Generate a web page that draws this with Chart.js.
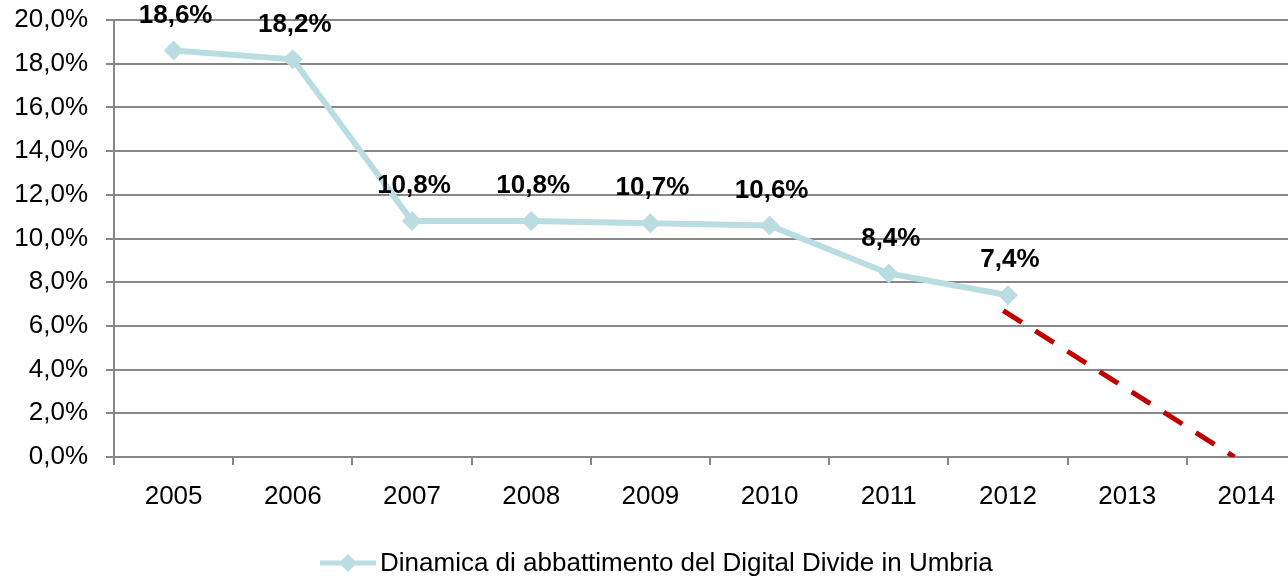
<!DOCTYPE html>
<html>
<head>
<meta charset="utf-8">
<script src="https://cdn.jsdelivr.net/npm/chart.js@4"></script>
<style>
  html, body { margin: 0; padding: 0; background: #fff; overflow: hidden; }
  /* the original chart is cropped on the right, so the canvas runs past the frame */
  #wrap { width: 1288px; height: 579px; overflow: hidden; }
</style>
</head>
<body>
<div id="wrap"><canvas id="chart" width="1306" height="579"></canvas></div>
<script>
const years = ['2005', '2006', '2007', '2008', '2009', '2010', '2011', '2012', '2013', '2014'];
const digitalDivide = [18.6, 18.2, 10.8, 10.8, 10.7, 10.6, 8.4, 7.4, null, null];
// red dashed projection, x in category index units (0 = 2005)
const trendX = [6.96, 8.9];
const trendY = [6.7, 0];
const legendText = 'Dinamica di abbattimento del Digital Divide in Umbria';

const blue = '#b9dde0';
const red = '#c00000';
const grey = '#878787';
const fontFamily = '"Liberation Sans", Arial, sans-serif';

function fmt(v) {
    return v.toFixed(1).replace('.', ',') + '%';
}

// value labels above the blue points + bottom legend
const labelsPlugin = {
    id: 'labelsPlugin',
    afterDatasetsDraw(chart) {
        const ctx = chart.ctx;
        const meta = chart.getDatasetMeta(1);
        ctx.save();
        ctx.font = 'bold 26px ' + fontFamily;
        ctx.fillStyle = '#000';
        ctx.textAlign = 'center';
        ctx.textBaseline = 'middle';
        meta.data.forEach((pt, i) => {
            const v = digitalDivide[i];
            if (v == null) return;
            ctx.fillText(fmt(v), pt.x + 2, pt.y - 35);
        });

        // legend
        const y = 563;
        const x0 = 320;
        ctx.strokeStyle = blue;
        ctx.lineWidth = 5;
        ctx.beginPath();
        ctx.moveTo(x0, y);
        ctx.lineTo(x0 + 56, y);
        ctx.stroke();
        ctx.fillStyle = blue;
        ctx.beginPath();
        ctx.moveTo(x0 + 28, y - 9);
        ctx.lineTo(x0 + 37, y);
        ctx.lineTo(x0 + 28, y + 9);
        ctx.lineTo(x0 + 19, y);
        ctx.closePath();
        ctx.fill();
        ctx.font = '26px ' + fontFamily;
        ctx.fillStyle = '#000';
        ctx.textAlign = 'left';
        ctx.fillText(legendText, x0 + 60, y + 1);
        ctx.restore();
    }
};

new Chart(document.getElementById('chart').getContext('2d'), {
    type: 'line',
    data: {
        labels: years,
        datasets: [{
            label: 'trend',
            data: trendX.map((x, i) => ({ x: x, y: trendY[i] })),
            xAxisID: 'x2',
            borderColor: red,
            borderWidth: 5,
            borderDash: [22, 16],
            pointRadius: 0,
            fill: false
        }, {
            label: legendText,
            data: digitalDivide,
            xAxisID: 'x',
            borderColor: blue,
            backgroundColor: blue,
            borderWidth: 6,
            pointStyle: 'rectRot',
            pointRadius: 10,
            pointBorderWidth: 0,
            fill: false
        }]
    },
    options: {
        responsive: false,
        animation: false,
        layout: { autoPadding: false, padding: { top: 20, right: 0, bottom: 0, left: 0 } },
        plugins: {
            legend: { display: false },
            tooltip: { enabled: false }
        },
        scales: {
            x: {
                offset: true,
                grid: {
                    offset: true,
                    drawOnChartArea: false,
                    color: grey,
                    lineWidth: 2,
                    tickLength: 8
                },
                border: { color: grey, width: 2 },
                ticks: {
                    color: '#000',
                    padding: 16,
                    maxRotation: 0,
                    font: { family: fontFamily, size: 26 }
                },
                afterFit(scale) {
                    scale.height = 122;
                    scale.paddingLeft = 0;
                    scale.paddingRight = 0;
                }
            },
            x2: {
                type: 'linear',
                display: false,
                min: -0.5,
                max: 9.5
            },
            y: {
                min: 0,
                max: 20,
                grid: {
                    color: grey,
                    lineWidth: 2,
                    tickLength: 8
                },
                border: { color: grey, width: 2 },
                ticks: {
                    stepSize: 2,
                    color: '#000',
                    padding: 18,
                    font: { family: fontFamily, size: 26 },
                    callback: v => fmt(v)
                },
                afterFit(scale) {
                    scale.width = 114;
                    scale.paddingTop = 0;
                    scale.paddingBottom = 0;
                }
            }
        }
    },
    plugins: [labelsPlugin]
});
</script>
</body>
</html>
